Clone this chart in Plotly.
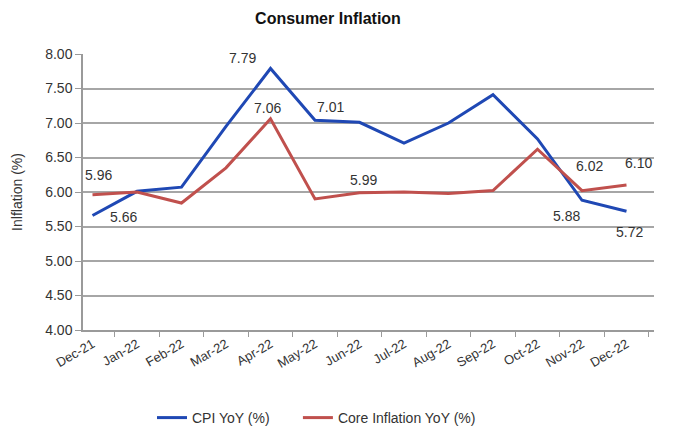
import plotly.graph_objects as go

months = ["Dec-21", "Jan-22", "Feb-22", "Mar-22", "Apr-22", "May-22", "Jun-22",
          "Jul-22", "Aug-22", "Sep-22", "Oct-22", "Nov-22", "Dec-22"]
cpi = [5.66, 6.01, 6.07, 6.95, 7.79, 7.04, 7.01, 6.71, 7.00, 7.41, 6.77, 5.88, 5.72]
core = [5.96, 6.00, 5.84, 6.35, 7.06, 5.90, 5.99, 6.00, 5.98, 6.02, 6.62, 6.02, 6.10]
y_ticks = [4.0, 4.5, 5.0, 5.5, 6.0, 6.5, 7.0, 7.5, 8.0]

# data labels: (month index, text, xshift, yshift)
cpi_labels = [(0, "5.66", 31, -2), (4, "7.79", -28, 10), (5, "7.01", 15, 13),
              (11, "5.88", -16, -16), (12, "5.72", 3, -21)]
core_labels = [(0, "5.96", 6, 20), (4, "7.06", -3, 11), (6, "5.99", 4, 13),
               (11, "6.02", 7, 25), (12, "6.10", 12, 22)]

BLUE = "#1F48B4"
RED = "#C0504D"
FONT = "Liberation Sans"
W, H = 665, 420  # page body adds an 8px margin

fig = go.Figure()
fig.add_trace(go.Scatter(x=months, y=cpi, mode="lines",
                         name="CPI YoY (%)&nbsp;&nbsp;&nbsp;&nbsp;&nbsp;&nbsp;",
                         line=dict(color=BLUE, width=3)))
fig.add_trace(go.Scatter(x=months, y=core, mode="lines", name="Core Inflation YoY (%)",
                         line=dict(color=RED, width=3)))

for i, t, xs, ys in cpi_labels:
    fig.add_annotation(x=months[i], y=cpi[i], text=t, showarrow=False,
                       xshift=xs, yshift=ys, font=dict(size=14, color="#333333", family=FONT))
for i, t, xs, ys in core_labels:
    fig.add_annotation(x=months[i], y=core[i], text=t, showarrow=False,
                       xshift=xs, yshift=ys, font=dict(size=14, color="#333333", family=FONT))

fig.update_layout(
    width=W, height=H,
    margin=dict(l=75, r=19, t=46, b=98),
    paper_bgcolor="white", plot_bgcolor="white",
    font=dict(family=FONT, size=13, color="#333333"),
    title=dict(text="<b>Consumer Inflation</b>", x=320 / W, xanchor="center",
               y=1 - 10 / H, yanchor="middle", font=dict(size=16, color="#111111", family=FONT)),
    showlegend=True,
    legend=dict(orientation="h", xref="container", yref="container",
                x=144 / W, xanchor="left", y=1 - 410 / H, yanchor="middle",
                font=dict(size=14, color="#333333"), itemwidth=30, tracegroupgap=0),
)
fig.update_xaxes(type="category", tickangle=-30, showgrid=False, automargin=False,
                 showline=True, linecolor="#9a9a9a", linewidth=1.5,
                 ticks="outside", tickson="boundaries", ticklen=5, tickcolor="#9a9a9a",
                 tickfont=dict(size=13, color="#333333"))
fig.update_yaxes(range=[4.0, 8.0], tickvals=y_ticks, automargin=False,
                 ticktext=[f"{v:.2f}" for v in y_ticks],
                 showgrid=True, gridcolor="#a6a6a6", gridwidth=1.5,
                 showline=True, linecolor="#9a9a9a", linewidth=1.5,
                 ticks="outside", ticklen=6, tickcolor="#9a9a9a",
                 zeroline=False,
                 title=dict(text="Inlflation (%)", font=dict(size=14, color="#333333"), standoff=19),
                 tickfont=dict(size=14, color="#333333"))

fig.write_html("out.html")
